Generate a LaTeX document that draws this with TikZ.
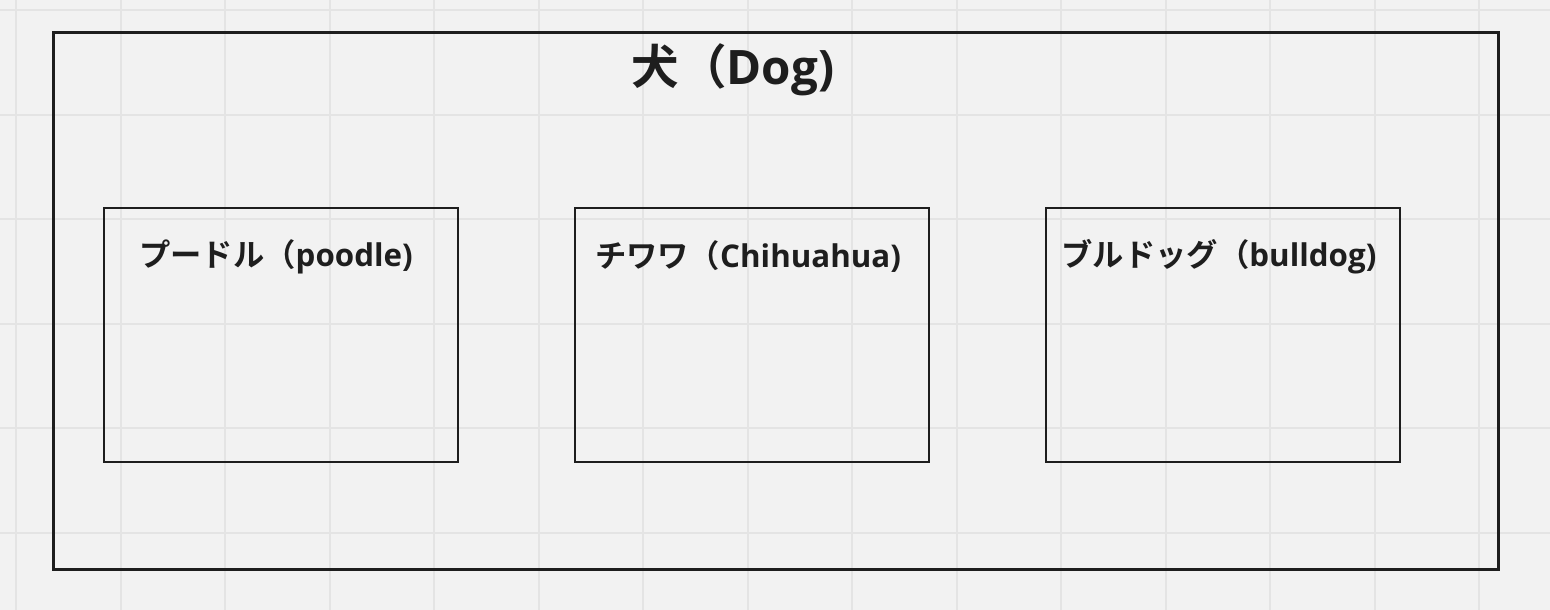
\documentclass[tikz,border=0pt]{standalone}
\usepackage{fontspec}
\newfontfamily\cjk{Noto Sans CJK JP Bold}
\newfontfamily\lat{Open Sans}
\newcommand{\latpart}[1]{{\lat\bfseries #1}}
\definecolor{bg}{HTML}{F2F2F2}
\definecolor{gridc}{HTML}{E4E4E4}
\definecolor{ink}{HTML}{1E1E1E}
\begin{document}
\begin{tikzpicture}[x=1pt,y=-1pt,
  frame/.style={draw=ink,line width=3pt},
  breed/.style={draw=ink,line width=2.6pt},
  lbl/.style={text=ink,font=\cjk\fontsize{31.3}{36}\selectfont,inner sep=0pt},
  ttl/.style={text=ink,font=\cjk\fontsize{47.5}{54}\selectfont,inner sep=0pt}]
\fill[bg] (0,0) rectangle (1550,610);
\useasboundingbox (0,0) rectangle (1550,610);
\foreach \i in {0,...,14} \draw[gridc,line width=2pt] ({16+104.5*\i},0) -- ({16+104.5*\i},610);
\foreach \j in {0,...,5} \draw[gridc,line width=2pt] (0,{10+104.5*\j}) -- (1550,{10+104.5*\j});
\draw[frame] (53,33) rectangle (1498,569);
\coordinate (a1) at (104,208); \coordinate (a2) at (458,462);
\coordinate (b1) at (575,208); \coordinate (b2) at (929,462);
\coordinate (c1) at (1046,208); \coordinate (c2) at (1400,462);
\draw[breed] (a1) rectangle (a2);
\draw[breed] (b1) rectangle (b2);
\draw[breed] (c1) rectangle (c2);
\node[ttl] (title) at (733,70) {犬（\latpart{Dog)}};
\node[lbl] (poodle) at (276,257) {プードル（\latpart{poodle)}};
\node[lbl] (chihuahua) at (748,257) {チワワ（\latpart{Chihuahua)}};
\node[lbl] (bulldog) at (1219,257) {ブルドッグ（\latpart{bulldog)}};
\end{tikzpicture}
\end{document}
